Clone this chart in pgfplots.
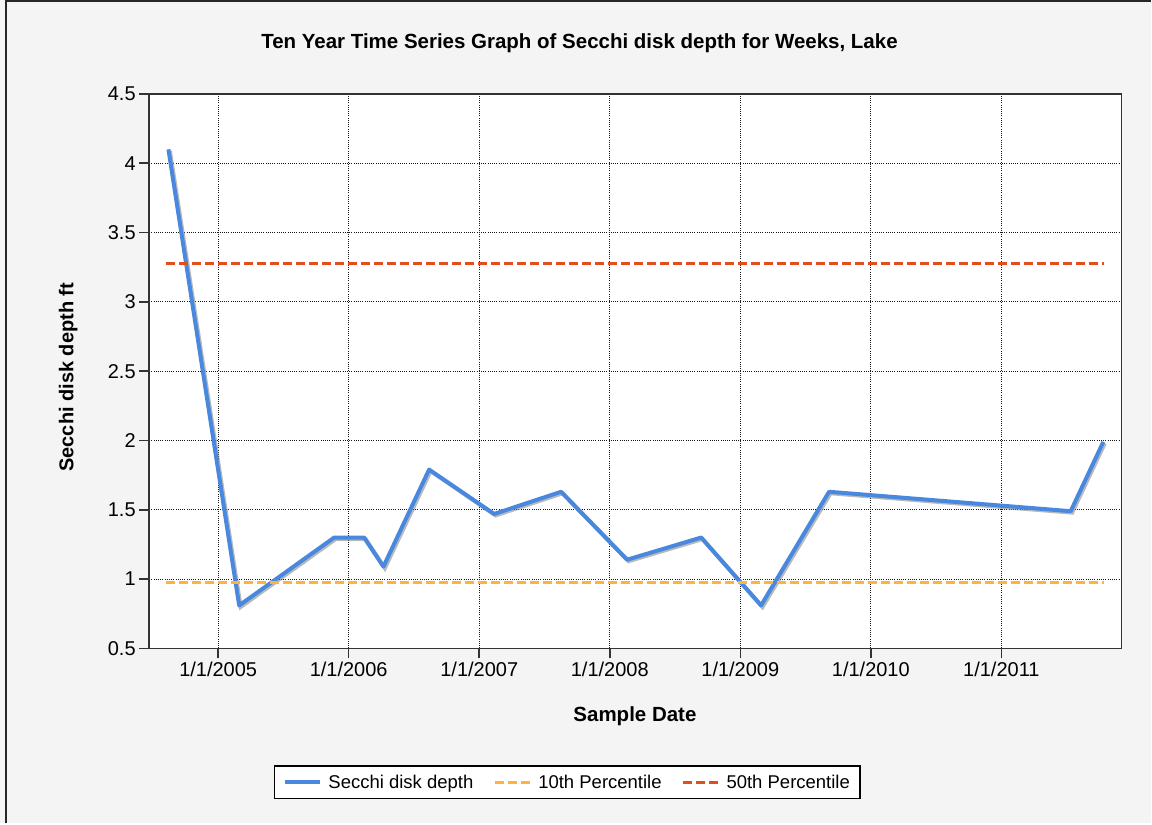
\documentclass[border=0pt]{standalone}
\usepackage{pgfplots}
\pgfplotsset{compat=1.18}
\usepackage{fontspec}
\setmainfont{Liberation Sans}
\definecolor{bgc}{RGB}{244,244,244}
\definecolor{secchi}{RGB}{72,136,222}
\definecolor{ptenth}{RGB}{255,178,60}
\definecolor{pfifty}{RGB}{226,78,30}
\begin{document}
\begin{tikzpicture}[x=1pt,y=1pt]
\fill[bgc] (0,0) rectangle (1152,824);
\draw[black!85, line width=2pt] (6.5,0) -- (6.5,823) -- (1152,823);
\node[font=\fontsize{20.5}{24}\selectfont\bfseries] at (580,781) {Ten Year Time Series Graph of Secchi disk depth for Weeks, Lake};
\node[font=\fontsize{20.5}{24}\selectfont\bfseries] at (635.5,106.7) {Sample Date};
\node[font=\fontsize{20}{24}\selectfont\bfseries, rotate=90] at (68.3,446.5) {Secchi disk depth ft};
\begin{axis}[
  at={(149.3pt,175pt)}, anchor=south west,
  scale only axis, width=973pt, height=555pt,
  xmin=2004.4715, xmax=2011.919,
  ymin=0.5, ymax=4.5,
  xtick={2005,2006,2007,2008,2009,2010,2011},
  xticklabels={1/1/2005,1/1/2006,1/1/2007,1/1/2008,1/1/2009,1/1/2010,1/1/2011},
  ytick={0.5,1,1.5,2,2.5,3,3.5,4,4.5},
  yticklabels={0.5,1,1.5,2,2.5,3,3.5,4,4.5},
  axis background/.style={fill=white},
  axis line style={black!80, line width=1.5pt},
  tick align=outside, major tick length=10pt,
  tick style={black!80, line width=1.5pt},
  xtick pos=bottom, ytick pos=left,
  grid=major,
  major grid style={black!90, line width=1pt, dash pattern=on 1pt off 1.2pt},
  tick label style={font=\fontsize{20}{22}\selectfont, text=black},
  /pgf/number format/assume math mode=true,
  legend style={at={(0.430,-0.2414)}, anchor=center, legend columns=3,
    draw=black, line width=1.5pt, fill=white,
    font=\fontsize{18.5}{22}\selectfont, text=black,
    /tikz/every even column/.append style={column sep=18pt},
    /tikz/every odd column/.append style={column sep=4pt},
    inner xsep=8pt, inner ysep=7pt},
  legend image code/.code={\draw[#1] (0pt,0pt) -- (36pt,0pt);},
]
\addplot[forget plot, black!50, line width=4pt, opacity=0.55, xshift=1.5pt, yshift=-1.5pt] coordinates {
(2004.619,4.10) (2005.161,0.81) (2005.889,1.30) (2006.118,1.30) (2006.266,1.09)
(2006.616,1.79) (2007.114,1.47) (2007.627,1.63) (2008.133,1.14) (2008.700,1.30)
(2009.159,0.81) (2009.680,1.63) (2011.531,1.49) (2011.781,1.99)};
\addplot[secchi, line width=4pt, line join=round] coordinates {
(2004.619,4.10) (2005.161,0.81) (2005.889,1.30) (2006.118,1.30) (2006.266,1.09)
(2006.616,1.79) (2007.114,1.47) (2007.627,1.63) (2008.133,1.14) (2008.700,1.30)
(2009.159,0.81) (2009.680,1.63) (2011.531,1.49) (2011.781,1.99)};
\addlegendentry{Secchi disk depth}
\addplot[ptenth, line width=3pt, dash pattern=on 9pt off 4pt] coordinates {(2004.604,0.975) (2011.787,0.975)};
\addlegendentry{10th Percentile}
\addplot[pfifty, line width=3pt, dash pattern=on 9pt off 4pt] coordinates {(2004.604,3.277) (2011.787,3.277)};
\addlegendentry{50th Percentile}
\end{axis}
\end{tikzpicture}
\end{document}
